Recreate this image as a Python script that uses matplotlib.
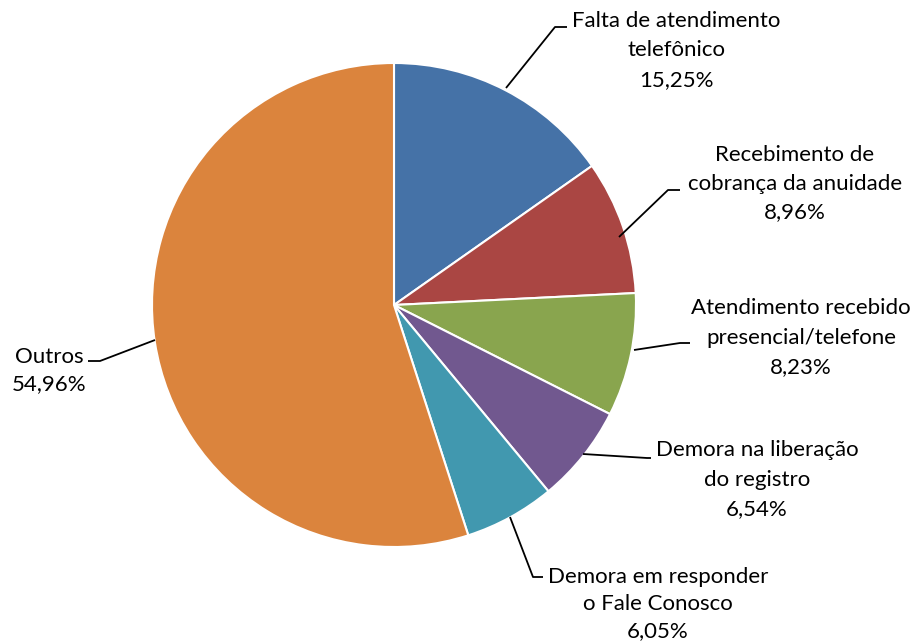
import matplotlib
matplotlib.use("Agg")
import matplotlib.pyplot as plt

categories = ["Falta de atendimento\ntelefônico", "Recebimento de\ncobrança da anuidade",
              "Atendimento recebido\npresencial/telefone", "Demora na liberação\ndo registro",
              "Demora em responder\no Fale Conosco", "Outros"]
values = [15.25, 8.96, 8.23, 6.54, 6.05, 54.96]
pct_labels = ["15,25%", "8,96%", "8,23%", "6,54%", "6,05%", "54,96%"]
colors = ["#4572A7", "#AA4643", "#89A54E", "#71588F", "#4198AF", "#DB843D"]

W, H = 919, 641
fig = plt.figure(figsize=(W / 100, H / 100), dpi=100)
ax = fig.add_axes([0, 0, 1, 1])

def Y(y):
    return H - y

ax.pie(values, colors=colors, startangle=90, counterclock=False,
       center=(394, Y(305)), radius=242, frame=True,
       wedgeprops=dict(edgecolor="white", linewidth=1.5))
ax.set_xlim(0, W)
ax.set_ylim(0, H)
ax.set_aspect("equal")
ax.axis("off")

# leader lines (pixel coordinates of reference layout)
leaders = [
    [(506, 88), (555, 27), (567, 27)],
    [(619, 237), (668, 190), (680, 190)],
    [(634, 350), (680, 343), (690, 343)],
    [(583, 454), (647, 458), (651, 458)],
    [(510, 517), (533, 577), (543, 577)],
    [(155, 340), (100, 361), (88, 361)],
]
for pts in leaders:
    ax.plot([p[0] for p in pts], [Y(p[1]) for p in pts], color="black", lw=1.3,
            solid_capstyle="butt")

# text label positions: (center x, first line y, spacing)
label_pos = [
    (676, 21, 29.5),
    (795, 155, 28.5),
    (801, 308, 29.5),
    (757, 450, 29.5),
    (658, 577, 27),
    (49, 357, 27),
]
font = dict(family=["Lato", "DejaVu Sans"], size=16, color="black")
for cat, pct, (cx, y0, sp) in zip(categories, pct_labels, label_pos):
    lines = cat.split("\n") + [pct]
    for i, ln in enumerate(lines):
        ax.text(cx, Y(y0 + i * sp), ln, ha="center", va="center", **font)

fig.savefig("out.png", dpi=100)
